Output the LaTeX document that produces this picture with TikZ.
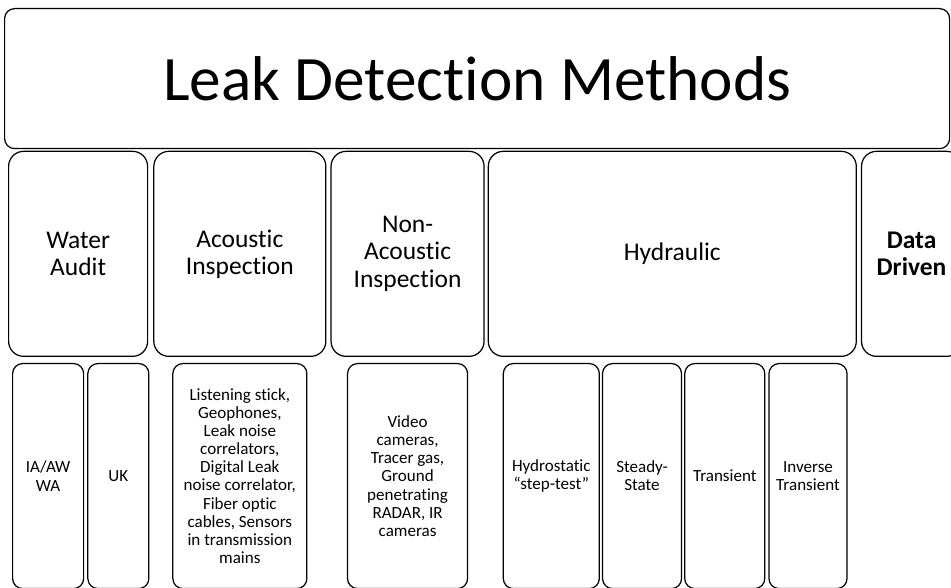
\documentclass[tikz,border=0pt]{standalone}
\usepackage{fontspec}
\setmainfont{Carlito}[Ligatures={TeX,NoCommon}]
\usepackage{tikz}
\usetikzlibrary{positioning}

\begin{document}
\begin{tikzpicture}[
    titlebox/.style={rectangle, rounded corners=0.2cm, draw=black, line width=0.7pt,
                     minimum width=18.9cm, minimum height=2.8cm, align=center,
                     font=\fontsize{36}{42}\selectfont},
    method/.style={rectangle, rounded corners=0.3cm, draw=black, line width=0.7pt,
                   minimum height=4.1cm, align=center, inner sep=0pt,
                   font=\fontsize{14.5}{15.4}\selectfont},
    detail/.style={rectangle, rounded corners=0.2cm, draw=black, line width=0.7pt,
                   minimum height=4.5cm, align=center, inner sep=0pt,
                   font=\fontsize{9.7}{10.3}\selectfont}
]
\useasboundingbox (0,0) rectangle (19.02,-11.76);
\clip (0,0) rectangle (19.02,-11.76);

% Title
\node[titlebox, anchor=north west] (title) at (0.08,-0.16) {Leak Detection Methods};

% Row 2: method families
\node[method, minimum width=2.78cm, below right=0.03cm and 0.08cm of title.south west,
      anchor=north west] (audit) {Water\\Audit};
\node[method, minimum width=3.44cm, right=0.1cm of audit] (acoustic) {Acoustic\\Inspection};
\node[method, minimum width=3.06cm, right=0.08cm of acoustic] (nonacoustic) {Non-\\Acoustic\\Inspection};
\node[method, minimum width=7.36cm, right=0.06cm of nonacoustic] (hydraulic) {Hydraulic};
\node[method, minimum width=2.0cm, right=0.08cm of hydraulic] (datadriven) {\textbf{Data}\\\textbf{Driven}};

% Row 3: techniques
\node[detail, minimum width=1.42cm, below right=0.12cm and 0.08cm of audit.south west,
      anchor=north west] (iaaw) {IA/AW\\WA};
\node[detail, minimum width=1.22cm, right=0.06cm of iaaw] (uk) {UK};
\node[detail, minimum width=2.68cm, below=0.12cm of acoustic] (acousticlist)
    {Listening stick,\\Geophones,\\Leak noise\\correlators,\\Digital Leak\\noise correlator,\\Fiber optic\\cables, Sensors\\in transmission\\mains};
\node[detail, minimum width=2.4cm, below=0.12cm of nonacoustic] (nonacousticlist)
    {Video\\cameras,\\Tracer gas,\\Ground\\penetrating\\RADAR, IR\\cameras};
\node[detail, minimum width=1.92cm, below right=0.12cm and 0.3cm of hydraulic.south west,
      anchor=north west] (hydrostatic) {Hydrostatic\\“step-test”};
\node[detail, minimum width=1.58cm, right=0.04cm of hydrostatic] (steady) {Steady-\\State};
\node[detail, minimum width=1.6cm, right=0.04cm of steady] (transient) {Transient};
\node[detail, minimum width=1.56cm, right=0.06cm of transient] (inverse) {Inverse\\Transient};

\end{tikzpicture}
\end{document}
